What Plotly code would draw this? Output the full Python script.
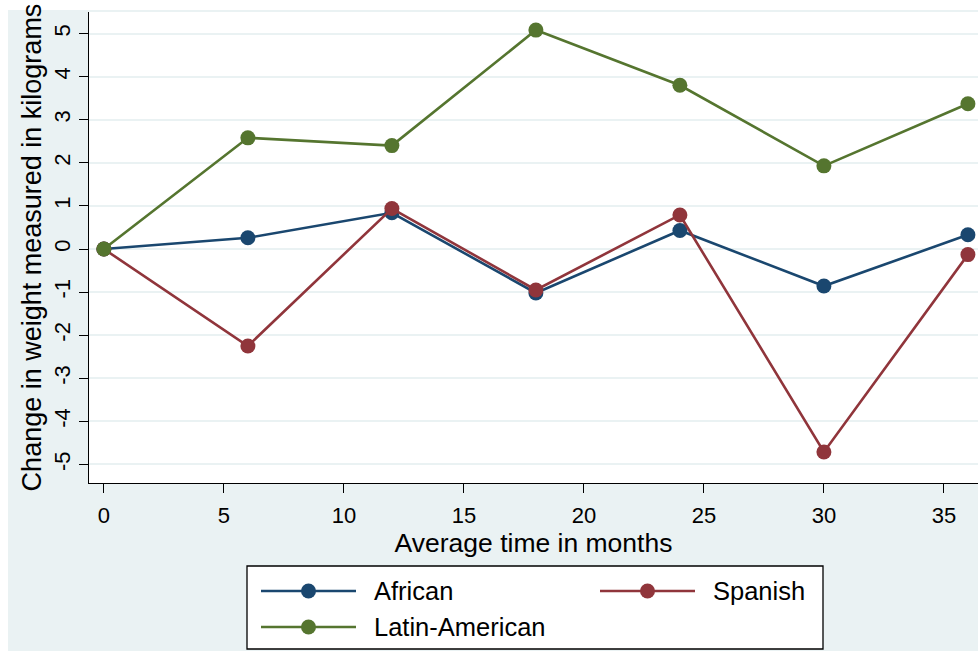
import plotly.graph_objects as go

# Weight change by group over follow-up time
months = [0, 6, 12, 18, 24, 30, 36]
african = [0.0, 0.26, 0.84, -1.02, 0.43, -0.86, 0.33]
spanish = [0.0, -2.25, 0.94, -0.95, 0.79, -4.71, -0.13]
latin_american = [0.0, 2.58, 2.40, 5.08, 3.80, 1.93, 3.37]

x_ticks = [0, 5, 10, 15, 20, 25, 30, 35]
y_ticks = [-5, -4, -3, -2, -1, 0, 1, 2, 3, 4, 5]

series = [
    ("African", african, "#1a476f"),
    ("Spanish", spanish, "#90353b"),
    ("Latin-American", latin_american, "#55752f"),
]

W, H = 978, 651
ML, MR, MT, MB = 89, 0, 12, 168
PW, PH = W - ML - MR, H - MT - MB

BG = "#eaf2f3"
FONT = "Liberation Sans, Arial, Helvetica, sans-serif"


def px(xp):
    return (xp - ML) / PW


def py(yp):
    return (H - MB - yp) / PH


fig = go.Figure()
for name, vals, col in series:
    fig.add_trace(go.Scatter(
        x=months, y=vals, name=name, mode="lines+markers",
        line=dict(color=col, width=2.6),
        marker=dict(color=col, size=15),
        showlegend=False, cliponaxis=False,
    ))

shapes = [
    # white margin strips at the left and top edges of the graph region
    dict(type="rect", xref="paper", yref="paper", x0=px(0), x1=px(8), y0=py(H), y1=py(0),
         fillcolor="white", line=dict(width=0), layer="below"),
    dict(type="rect", xref="paper", yref="paper", x0=px(0), x1=px(W), y0=py(10), y1=py(0),
         fillcolor="white", line=dict(width=0), layer="below"),
    # legend frame
    dict(type="rect", xref="paper", yref="paper", x0=px(247), x1=px(823), y0=py(649), y1=py(566),
         fillcolor="white", line=dict(color="black", width=1.3)),
]
annotations = []

# legend entries: two columns, then wrap
slots = [(261, 591), (600, 591), (261, 627)]
for (name, vals, col), (lx, ly) in zip(series, slots):
    shapes.append(dict(type="line", xref="paper", yref="paper",
                       x0=px(lx), x1=px(lx + 95), y0=py(ly), y1=py(ly),
                       line=dict(color=col, width=2.6)))
    cx = lx + 47.5
    shapes.append(dict(type="circle", xref="paper", yref="paper",
                       x0=px(cx - 7.5), x1=px(cx + 7.5), y0=py(ly + 7.5), y1=py(ly - 7.5),
                       fillcolor=col, line=dict(color=col, width=0)))
    annotations.append(dict(xref="paper", yref="paper", x=px(lx + 111), y=py(ly),
                            xanchor="left", yanchor="middle", text=name, showarrow=False,
                            font=dict(size=25.5, color="black", family=FONT)))

fig.update_layout(
    width=W, height=H,
    margin=dict(l=ML, r=MR, t=MT, b=MB),
    paper_bgcolor=BG, plot_bgcolor="white",
    font=dict(family=FONT, color="black"),
    shapes=shapes, annotations=annotations,
    showlegend=False,
    xaxis=dict(
        range=[-0.62, 36.42], tickvals=x_ticks, ticktext=[str(v) for v in x_ticks],
        showgrid=False, zeroline=False,
        showline=True, linecolor="black", linewidth=1.3,
        ticks="outside", ticklen=9, tickwidth=1.3, tickcolor="black",
        tickfont=dict(size=22), ticklabelstandoff=3,
        title=dict(text="Average time in months", font=dict(size=26.5), standoff=0),
    ),
    yaxis=dict(
        range=[-5.43, 5.5], tickvals=y_ticks, ticktext=[str(v) for v in y_ticks],
        showgrid=True, gridcolor=BG, gridwidth=2, zeroline=False,
        showline=True, linecolor="black", linewidth=1.3,
        ticks="outside", ticklen=9, tickwidth=1.3, tickcolor="black",
        tickangle=-90, tickfont=dict(size=22),
        title=dict(text="Change in weight measured in kilograms", font=dict(size=27), standoff=0),
    ),
)

fig.write_html("out.html")
